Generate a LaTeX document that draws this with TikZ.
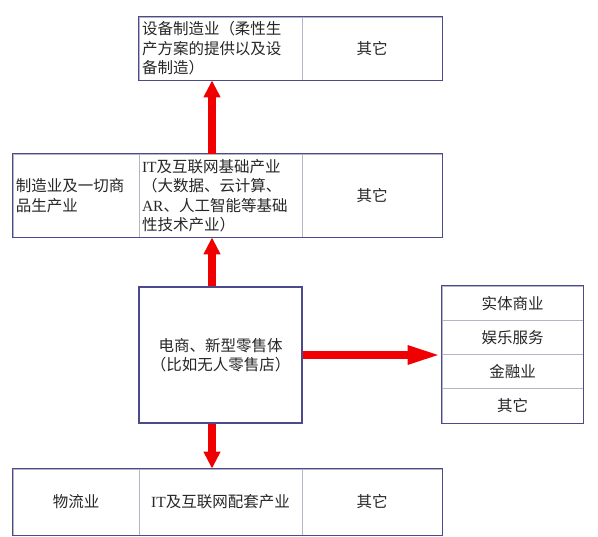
\documentclass[tikz,border=0pt]{standalone}
\usepackage{fontspec}
\setmainfont{Noto Sans CJK SC}
\newfontfamily\latserif{Liberation Serif}
\newcommand{\lat}[1]{{\latserif #1}}
\usetikzlibrary{arrows.meta}
\definecolor{bordblue}{HTML}{4A4A8C}
\definecolor{divgray}{HTML}{B4B4C4}
\definecolor{arrred}{HTML}{F00000}
\tikzset{
  cell/.style={draw=divgray, line width=0.8pt, inner sep=3pt, font=\fontsize{15.5}{19.5}\selectfont, text=black!85},
  outerbox/.style={draw=bordblue, line width=1.3pt},
  fatarrow/.style={draw=arrred, line width=8pt, -{Triangle[length=17pt,width=16pt]}},
  fatharrow/.style={draw=arrred, line width=8pt, -{Triangle[length=34pt,width=17pt]}},
}
\begin{document}
\begin{tikzpicture}[x=1pt,y=-1pt]
\useasboundingbox (0,0) rectangle (598,537);
% top row: y 17..80
\node[cell, minimum width=163pt, minimum height=63pt, text width=157pt, align=left] (t1) at (220.5,48.5) {设备制造业（柔性生\\产方案的提供以及设\\备制造）};
\node[cell, minimum width=140pt, minimum height=63pt] (t2) at (372,48.5) {其它};
\draw[outerbox] (t1.north west) rectangle (t2.south east);
% middle row: y 154..237
\node[cell, minimum width=126pt, minimum height=83pt, text width=120pt, align=left] (m1) at (76,195.5) {制造业及一切商\\品生产业};
\node[cell, minimum width=163pt, minimum height=83pt, text width=157pt, align=left] (m2) at (220.5,195.5) {\lat{IT}及互联网基础产业\\（大数据、云计算、\\\lat{AR}、人工智能等基础\\性技术产业）};
\node[cell, minimum width=140pt, minimum height=83pt] (m3) at (372,195.5) {其它};
\draw[outerbox] (m1.north west) rectangle (m3.south east);
% center box: y 287..423
\node[cell, draw=bordblue, line width=1.3pt, minimum width=163pt, minimum height=136pt, align=center] (c) at (220.5,355) {电商、新型零售体\\（比如无人零售店）};
% right box: x 442..583, y 286..423
\node[cell, minimum width=141pt, minimum height=34.25pt] (r1) at (512.5,303.1) {实体商业};
\node[cell, minimum width=141pt, minimum height=34.25pt] (r2) at (512.5,337.4) {娱乐服务};
\node[cell, minimum width=141pt, minimum height=34.25pt] (r3) at (512.5,371.6) {金融业};
\node[cell, minimum width=141pt, minimum height=34.25pt] (r4) at (512.5,405.9) {其它};
\draw[outerbox] (r1.north west) rectangle (r4.south east);
% bottom row: y 469..535
\node[cell, minimum width=126pt, minimum height=66pt] (b1) at (76,502) {物流业};
\node[cell, minimum width=163pt, minimum height=66pt] (b2) at (220.5,502) {\lat{IT}及互联网配套产业};
\node[cell, minimum width=140pt, minimum height=66pt] (b3) at (372,502) {其它};
\draw[outerbox] (b1.north west) rectangle (b3.south east);
% arrows
\draw[fatarrow] ([xshift=-8.5pt]m2.north) -- ([xshift=-8.5pt]t1.south);
\draw[fatarrow] ([xshift=-8.5pt]c.north) -- ([xshift=-8.5pt]m2.south);
\draw[fatarrow] ([xshift=-8.5pt]c.south) -- ([xshift=-8.5pt]b2.north);
\draw[fatharrow] (c.east) -- (c.east -| r1.west);
\end{tikzpicture}
\end{document}
